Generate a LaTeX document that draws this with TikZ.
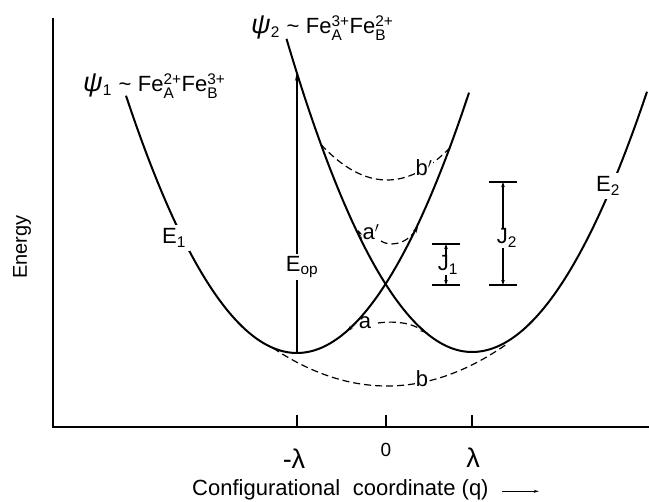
\documentclass[tikz,border=0pt]{standalone}
\usepackage{amsmath}
\usepackage{fontspec}
\setmainfont{Liberation Sans}
\usetikzlibrary{arrows.meta,positioning}
\tikzset{
	axis/.style = {line width=1.3pt},% frame and ticks
	curve/.style = {line width=2pt},% the two potential curves
	level/.style = {line width=1.2pt, dash pattern=on 7pt off 4pt},% dashed levels
	tiny tip/.style = {-{Stealth[length=6pt,width=4pt]}},
	both tips/.style = {{Stealth[length=5pt,width=3.5pt]}-{Stealth[length=5pt,width=3.5pt]}},
	lbl/.style = {fill=white, inner sep=2pt, font=\fontsize{22}{26}\selectfont},
	bar/.style = {line width=1.2pt}
}
\newcommand{\feion}[2]{Fe$^{\text{#1}}_{\text{#2}}$}

\begin{document}
\begin{tikzpicture}[x=1pt,y=-1pt]
	\useasboundingbox (0,0) rectangle (649,502);
	% frame
	\draw[axis] (53,18) -- (53,427) -- (649,427);
	\foreach \t in {297,386,472}
		\draw[axis] (\t,415) -- (\t,427);
	\node[font=\fontsize{27}{30}\selectfont] (mlam) at (294,459) {-λ};
	\node[font=\fontsize{19}{22}\selectfont] (zero) at (386,450) {0};
	\node[font=\fontsize{27}{30}\selectfont] (lam) at (473,458) {λ};
	\node[anchor=base west, inner sep=0pt, font=\fontsize{22}{26}\selectfont] (qlabel) at (192,496) {Configurational\hspace{0.3em} coordinate (q)};
	\draw[line width=1pt, -{Stealth[length=5pt,width=3pt]}] ([xshift=13pt,yshift=-1pt]qlabel.east) -- ++(37,0);
	\node[rotate=90, font=\fontsize{20}{24}\selectfont] (energy) at (22,247) {Energy};
	% potential curves
	\coordinate (minA) at (297,353);
	\coordinate (minB) at (472,352);
	\draw[curve] plot[domain=126:469, samples=90, smooth] (\x,{353-0.88*((\x-297)/10)^2});
	\draw[curve] plot[domain=286.5:472, samples=60, smooth] (\x,{352-0.91*((\x-472)/10)^2});
	\draw[curve] plot[domain=472:647, samples=60, smooth] (\x,{352-0.85*((\x-472)/10)^2});
	% dashed levels
	\draw[level] plot[domain=273:506, samples=60, smooth] (\x,{386-0.292*((\x-387)/10)^2});
	\draw[level] plot[domain=321:450, samples=40, smooth] (\x,{180-0.815*((\x-387)/10)^2});
	\draw[level, tiny tip] (378,323) .. controls (393,321) and (411,322) .. (426,333);
	\draw[tiny tip] (354,325) -- (347,331);
	\draw[level, tiny tip] (381,241) .. controls (388,246) and (405,246) .. (418,227);
	\draw[tiny tip] (362,239) -- (358,230);
	% optical transition
	\coordinate (top) at (297,72);
	\draw[line width=1.2pt, -{Stealth[length=9pt,width=4pt]}] (minA) -- (top);
	% J bars
	\coordinate (j1t) at (446,244);
	\coordinate (j1b) at (446,285);
	\coordinate (j2t) at (503,182);
	\coordinate (j2b) at (503,285);
	\foreach \c in {j1t,j1b,j2t,j2b}
		\draw[bar] ([xshift=-14pt]\c) -- ([xshift=14pt]\c);
	\draw[bar, both tips] (j1b) -- (j1t);
	\draw[bar, both tips] (j2b) -- (j2t);
	% labels
	\node[lbl, inner sep=4pt] (E1) at (174,238) {E\textsubscript{1}};
	\node[lbl, inner sep=4pt] (E2) at (608,186) {E\textsubscript{2}};
	\node[lbl, inner sep=2pt] (Eop) at (302,267) {E\textsubscript{op}};
	\node[lbl, inner sep=1pt] (J1) at (448,265) {J\textsubscript{1}};
	\node[lbl, inner sep=1pt] (J2) at (507,238) {J\textsubscript{2}};
	\node[lbl, fill=none, inner sep=0pt] (la) at (365,323) {a};
	\node[lbl, fill=none, inner sep=0pt] (laa) at (371,232) {a$'$};
	\node[lbl, inner sep=1pt] (lb) at (422,379) {b};
	\node[lbl, inner sep=1pt] (lbb) at (424,168) {b$'$};
	\node[anchor=base west, inner sep=0pt, font=\fontsize{22}{26}\selectfont] (psi1) at (83,92)
		{{\fontsize{27}{30}\selectfont\itshape ψ}\textsubscript{1}\hspace{0.3em}\textasciitilde\hspace{0.3em}\feion{2+}{A}\feion{3+}{B}};
	\node[anchor=base west, inner sep=0pt, font=\fontsize{22}{26}\selectfont] (psi2) at (251,34)
		{{\fontsize{27}{30}\selectfont\itshape ψ}\textsubscript{2}\hspace{0.3em}\textasciitilde\hspace{0.3em}\feion{3+}{A}\feion{2+}{B}};
\end{tikzpicture}
\end{document}
